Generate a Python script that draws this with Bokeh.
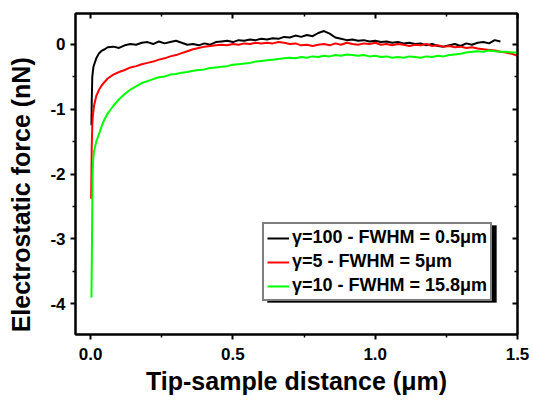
from bokeh.plotting import figure
from bokeh.models import (LinearAxis, FixedTicker, Range1d, Legend, LegendItem,
                          BoxAnnotation)
from bokeh.embed import file_html
from bokeh.resources import INLINE

# ---------------- data ----------------
x_black = [0.003, 0.004, 0.006, 0.010, 0.02, 0.03, 0.04, 0.05,
           0.06, 0.08, 0.10, 0.12, 0.14, 0.16, 0.18, 0.20, 0.22, 0.24, 0.26, 0.28,
           0.30, 0.32, 0.34, 0.36, 0.38, 0.40, 0.42, 0.44, 0.46, 0.48, 0.50, 0.52,
           0.54, 0.56, 0.58, 0.60, 0.62, 0.64, 0.66, 0.68, 0.70, 0.72, 0.74, 0.76,
           0.78, 0.80, 0.82, 0.84, 0.86, 0.88, 0.90, 0.92, 0.94, 0.96, 0.98, 1.00,
           1.02, 1.04, 1.06, 1.08, 1.10, 1.12, 1.14, 1.16, 1.18, 1.20, 1.22, 1.24,
           1.26, 1.28, 1.30, 1.32, 1.34, 1.36, 1.38, 1.40, 1.42, 1.44]
y_black = [-1.25, -0.90, -0.50, -0.35, -0.22, -0.14, -0.10, -0.08,
           -0.05, -0.04, -0.06, -0.02, 0.00, -0.01, 0.02, 0.03, 0.00, 0.04, 0.01, 0.03,
           0.05, 0.02, -0.01, 0.00, -0.02, 0.01, -0.01, 0.03, 0.04, 0.05, 0.03, 0.06,
           0.05, 0.07, 0.06, 0.08, 0.07, 0.09, 0.08, 0.11, 0.10, 0.13, 0.11, 0.14,
           0.12, 0.17, 0.20, 0.16, 0.10, 0.08, 0.06, 0.07, 0.05, 0.06, 0.04, 0.05,
           0.03, 0.04, 0.02, 0.03, 0.01, 0.02, 0.00, 0.01, -0.02, 0.00, -0.03, -0.04,
           -0.02, 0.00, -0.03, 0.01, -0.01, 0.02, 0.03, 0.01, 0.06, 0.04]

x_red = [0.002, 0.003, 0.004, 0.006, 0.008, 0.012, 0.02, 0.03, 0.04, 0.05,
         0.06, 0.08, 0.10, 0.12, 0.14, 0.16, 0.18, 0.20, 0.22, 0.24, 0.26, 0.28,
         0.30, 0.32, 0.34, 0.36, 0.38, 0.40, 0.42, 0.44, 0.46, 0.48, 0.50, 0.52,
         0.54, 0.56, 0.58, 0.60, 0.62, 0.64, 0.66, 0.68, 0.70, 0.72, 0.74, 0.76,
         0.78, 0.80, 0.82, 0.84, 0.86, 0.88, 0.90, 0.92, 0.94, 0.96, 0.98, 1.00,
         1.02, 1.04, 1.06, 1.08, 1.10, 1.12, 1.14, 1.16, 1.18, 1.20, 1.22, 1.24,
         1.26, 1.28, 1.30, 1.32, 1.34, 1.36, 1.38, 1.40, 1.42, 1.44, 1.46, 1.48, 1.50]
y_red = [-2.38, -2.00, -1.60, -1.25, -1.10, -0.95, -0.80, -0.70, -0.63, -0.58,
         -0.53, -0.47, -0.43, -0.40, -0.36, -0.34, -0.31, -0.29, -0.27, -0.24, -0.22, -0.19,
         -0.17, -0.14, -0.11, -0.08, -0.06, -0.04, -0.03, -0.02, -0.01, -0.02, 0.00, -0.01,
         0.01, 0.00, 0.02, 0.01, 0.02, 0.01, 0.03, 0.02, 0.00, 0.01, -0.02, -0.01,
         -0.03, -0.01, 0.00, -0.02, 0.01, -0.01, 0.02, 0.00, -0.01, 0.01, 0.00, 0.02,
         -0.01, 0.00, -0.02, 0.00, -0.01, -0.03, -0.01, -0.02, 0.00, -0.03, -0.02, -0.04,
         -0.03, -0.05, -0.04, -0.06, -0.05, -0.07, -0.08, -0.09, -0.10, -0.12, -0.13, -0.15, -0.18]

x_green = [0.003, 0.004, 0.005, 0.006, 0.007, 0.009, 0.012, 0.02, 0.03, 0.04, 0.05,
           0.06, 0.08, 0.10, 0.12, 0.14, 0.16, 0.18, 0.20, 0.22, 0.24, 0.26, 0.28,
           0.30, 0.32, 0.34, 0.36, 0.38, 0.40, 0.42, 0.44, 0.46, 0.48, 0.50, 0.52,
           0.54, 0.56, 0.58, 0.60, 0.62, 0.64, 0.66, 0.68, 0.70, 0.72, 0.74, 0.76,
           0.78, 0.80, 0.82, 0.84, 0.86, 0.88, 0.90, 0.92, 0.94, 0.96, 0.98, 1.00,
           1.02, 1.04, 1.06, 1.08, 1.10, 1.12, 1.14, 1.16, 1.18, 1.20, 1.22, 1.24,
           1.26, 1.28, 1.30, 1.32, 1.34, 1.36, 1.38, 1.40, 1.42, 1.44, 1.46, 1.48, 1.50]
y_green = [-3.90, -3.50, -3.00, -2.50, -2.00, -1.80, -1.65, -1.50, -1.38, -1.25, -1.15,
           -1.07, -0.95, -0.85, -0.77, -0.70, -0.65, -0.60, -0.57, -0.54, -0.51, -0.50, -0.47,
           -0.46, -0.44, -0.43, -0.41, -0.40, -0.39, -0.37, -0.36, -0.35, -0.34, -0.32, -0.31,
           -0.30, -0.29, -0.27, -0.26, -0.25, -0.24, -0.23, -0.22, -0.21, -0.22, -0.20, -0.21,
           -0.19, -0.20, -0.18, -0.19, -0.17, -0.18, -0.16, -0.17, -0.18, -0.17, -0.19, -0.18,
           -0.20, -0.19, -0.21, -0.20, -0.21, -0.19, -0.20, -0.21, -0.19, -0.20, -0.18, -0.19,
           -0.17, -0.16, -0.15, -0.13, -0.12, -0.11, -0.12, -0.10, -0.11, -0.12, -0.12, -0.13, -0.13]

series_labels = ["γ=100 - FWHM = 0.5μm", "γ=5 - FWHM = 5μm", "γ=10 - FWHM = 15.8μm"]
series_colors = ["#000000", "#ff0000", "#00ff00"]

x_title = "Tip-sample distance (μm)"
y_title = "Electrostatic force (nN)"
x_ticks = [0.0, 0.5, 1.0, 1.5]
x_tick_labels = ["0.0", "0.5", "1.0", "1.5"]
x_minor = [0.25, 0.75, 1.25]
y_ticks = [-4, -3, -2, -1, 0]
y_tick_labels = ["-4", "-3", "-2", "-1", "0"]
y_minor = [-3.5, -2.5, -1.5, -0.5]

FONT = "Liberation Sans"

# ---------------- figure ----------------
p = figure(width=529, height=397, output_backend="svg", toolbar_location=None,
           x_range=Range1d(-0.053, 1.5), y_range=Range1d(-4.47, 0.47),
           x_axis_location=None, y_axis_location=None,
           min_border_left=75, min_border_right=12, min_border_top=13,
           min_border_bottom=60)
p.grid.visible = False
p.outline_line_color = "black"
p.outline_line_width = 2
p.background_fill_color = "white"
p.border_fill_color = "white"

def style_axis(ax, labels=True):
    ax.axis_line_width = 2
    ax.major_tick_line_width = 2
    ax.minor_tick_line_width = 1.5
    ax.major_label_text_font = FONT
    ax.major_label_text_font_style = "bold"
    ax.major_label_text_font_size = "17px"
    ax.major_label_text_color = "black"
    ax.axis_label_text_font = FONT
    ax.axis_label_text_font_style = "bold"
    ax.axis_label_text_font_size = "25px"
    ax.axis_label_text_color = "black"
    if labels:
        ax.major_tick_out = 5
        ax.major_tick_in = 0
        ax.minor_tick_out = 3
        ax.minor_tick_in = 0
    else:
        ax.major_tick_out = 0
        ax.major_tick_in = 5
        ax.minor_tick_out = 0
        ax.minor_tick_in = 3
        ax.major_label_standoff = 0

xaxis = LinearAxis(ticker=FixedTicker(ticks=x_ticks, minor_ticks=x_minor),
                   axis_label=x_title)
style_axis(xaxis)
xaxis.major_label_overrides = dict(zip(x_ticks, x_tick_labels))
xaxis.major_label_standoff = 8
xaxis.axis_label_standoff = 4
p.add_layout(xaxis, "below")

# non-breaking spaces at the end push the centred title a little lower, as in the original
yaxis = LinearAxis(ticker=FixedTicker(ticks=y_ticks, minor_ticks=y_minor),
                   axis_label=y_title + "\u00a0" * 6)
style_axis(yaxis)
yaxis.major_label_overrides = dict(zip(y_ticks, y_tick_labels))
yaxis.major_label_standoff = 5
yaxis.axis_label_standoff = 12
p.add_layout(yaxis, "left")

top = LinearAxis(ticker=FixedTicker(ticks=x_ticks, minor_ticks=x_minor))
style_axis(top, labels=False)
top.major_label_overrides = {t: "" for t in x_ticks}
p.add_layout(top, "above")
right = LinearAxis(ticker=FixedTicker(ticks=y_ticks, minor_ticks=y_minor))
style_axis(right, labels=False)
right.major_label_overrides = {t: "" for t in y_ticks}
p.add_layout(right, "right")

renderers = []
for xs, ys, c in zip([x_black, x_red, x_green], [y_black, y_red, y_green], series_colors):
    r = p.line(xs, ys, line_color=c, line_width=2)
    renderers.append(r)

# legend shadow (screen offsets from the frame's lower-left corner)
shadow = BoxAnnotation(left=192, right=421, bottom=32, top=109,
                       left_units="screen", right_units="screen",
                       bottom_units="screen", top_units="screen",
                       fill_color="black", fill_alpha=1, line_color="black")
p.add_layout(shadow)

legend = Legend(items=[LegendItem(label=l, renderers=[r]) for l, r in zip(series_labels, renderers)],
                location=(187, 33), orientation="vertical",
                label_text_font=FONT, label_text_font_style="bold",
                label_text_font_size="18px", label_text_color="black",
                glyph_width=22, glyph_height=20, label_height=20, label_standoff=3,
                spacing=3, padding=3, margin=0,
                border_line_color="black", border_line_width=2,
                background_fill_color="white", background_fill_alpha=1)
p.add_layout(legend, "center")

open("out.html", "w").write(file_html(p, INLINE))
